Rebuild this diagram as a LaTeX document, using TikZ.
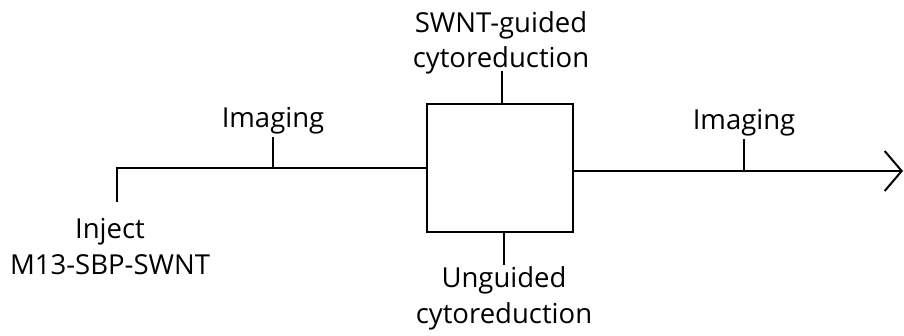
\documentclass[tikz,border=0pt]{standalone}
\usepackage{fontspec}
\setmainfont{Open Sans}
\usetikzlibrary{arrows.meta}
\begin{document}
\begin{tikzpicture}[x=1pt,y=-1pt,
  line width=2pt,
  lbl/.style={font=\fontsize{27.5}{36}\selectfont, align=center, inner sep=0pt},
  box/.style={draw, minimum width=146pt, minimum height=128pt, inner sep=0pt},
  tip/.style={-{Straight Barb[length=17pt,width=40pt,line width=2pt]}}]
  \useasboundingbox (0,0) rectangle (904,335);
  % central step
  \node[box] (box) at (500,168) {};
  % injection branch
  \coordinate (inj) at (117,202);
  \coordinate (corner) at (117,168);
  \coordinate (t1) at (273,168);
  \coordinate (t2) at (744,171);
  \coordinate (end) at (903,171);
  \draw (inj) -- (corner) -- (box.west);
  \draw[tip] ([yshift=-3pt]box.east) -- (end);
  % labels
  \node[lbl, anchor=base] (injlbl) at (110,238) {Inject};
  \node[lbl, anchor=base] (m13) at (110,274) {M13-SBP-SWNT};
  \node[lbl, anchor=base] (img1) at (273,127) {Imaging};
  \node[lbl, anchor=base] (img2) at (744,129) {Imaging};
  \node[lbl, anchor=base] (guided) at (501,32) {SWNT-guided};
  \node[lbl, anchor=base] (guided2) at (501,67) {cytoreduction};
  \node[lbl, anchor=base] (unguided) at (504,287) {Unguided};
  \node[lbl, anchor=base] (unguided2) at (504,323) {cytoreduction};
  % ticks
  \draw (t1) -- ++(0,-31);
  \draw (t2) -- ++(0,-32);
  \draw (box.north -| 502,0) -- ++(0,-32);
  \draw (box.south -| 504,0) -- ++(0,32);
\end{tikzpicture}
\end{document}
